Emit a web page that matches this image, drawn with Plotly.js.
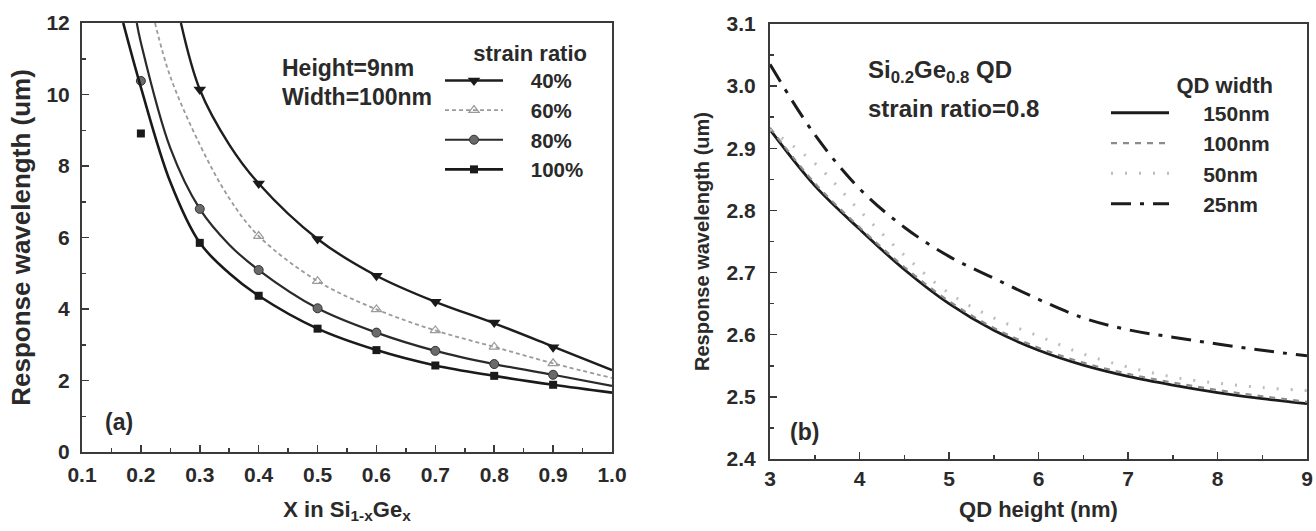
<!DOCTYPE html>
<html>
<head>
<meta charset="utf-8">
<script src="https://cdn.plot.ly/plotly-3.0.1.min.js"></script>
<style>html,body{margin:0;padding:0;background:#fff;}#chart{width:1316px;height:531px;}</style>
</head>
<body>
<div id="chart"></div>
<script>
// ---------- Panel (a): response wavelength vs Ge fraction x ----------
const strainLabels = ['40%', '60%', '80%', '100%'];
const xTicksA = [0.1, 0.2, 0.3, 0.4, 0.5, 0.6, 0.7, 0.8, 0.9, 1.0];
const yTicksA = [0, 2, 4, 6, 8, 10, 12];

// fitted curves
const xCurve40 = [0.268, 0.3, 0.35, 0.4, 0.5, 0.6, 0.7, 0.8, 0.9, 1.0];
const yCurve40 = [12, 10.14, 8.6, 7.51, 5.96, 4.93, 4.20, 3.60, 2.95, 2.29];
const xCurve60 = [0.224, 0.25, 0.3, 0.35, 0.4, 0.5, 0.6, 0.7, 0.8, 0.9, 1.0];
const yCurve60 = [12, 10.5, 8.6, 7.1, 6.04, 4.78, 3.99, 3.40, 2.94, 2.48, 2.07];
const xCurve80 = [0.193, 0.2, 0.25, 0.3, 0.35, 0.4, 0.5, 0.6, 0.7, 0.8, 0.9, 1.0];
const yCurve80 = [12, 11.45, 8.5, 6.80, 5.8, 5.09, 4.02, 3.34, 2.83, 2.46, 2.16, 1.85];
const xCurve100 = [0.170, 0.2, 0.25, 0.3, 0.35, 0.4, 0.5, 0.6, 0.7, 0.8, 0.9, 1.0];
const yCurve100 = [12, 10.2, 7.55, 5.85, 5.0, 4.37, 3.45, 2.85, 2.42, 2.13, 1.88, 1.66];

// data points (markers)
const xPts40 = [0.3, 0.4, 0.5, 0.6, 0.7, 0.8, 0.9];
const yPts40 = [10.14, 7.51, 5.96, 4.93, 4.20, 3.62, 2.93];
const xPts60 = [0.4, 0.5, 0.6, 0.7, 0.8, 0.9];
const yPts60 = [6.04, 4.78, 3.99, 3.40, 2.94, 2.48];
const xPts80 = [0.2, 0.3, 0.4, 0.5, 0.6, 0.7, 0.8, 0.9];
const yPts80 = [10.38, 6.80, 5.09, 4.02, 3.34, 2.83, 2.46, 2.16];
const xPts100 = [0.2, 0.3, 0.4, 0.5, 0.6, 0.7, 0.8, 0.9];
const yPts100 = [8.91, 5.85, 4.37, 3.45, 2.85, 2.42, 2.13, 1.88];

// ---------- Panel (b): response wavelength vs QD height ----------
const widthLabels = ['150nm', '100nm', '50nm', '25nm'];
const xTicksB = [3, 4, 5, 6, 7, 8, 9];
const yTicksB = [2.4, 2.5, 2.6, 2.7, 2.8, 2.9, 3.0, 3.1];
const qdHeight = [3, 3.5, 4, 4.5, 5, 5.5, 6, 6.5, 7, 7.5, 8, 8.5, 9];
const wl150 = [2.930, 2.840, 2.770, 2.705, 2.650, 2.607, 2.575, 2.551, 2.533, 2.519, 2.507, 2.497, 2.489];
const wl100 = [2.933, 2.844, 2.773, 2.709, 2.654, 2.611, 2.579, 2.555, 2.537, 2.523, 2.511, 2.501, 2.492];
const wl50  = [2.930, 2.876, 2.800, 2.728, 2.667, 2.627, 2.598, 2.569, 2.548, 2.532, 2.522, 2.515, 2.510];
const wl25  = [3.035, 2.922, 2.835, 2.773, 2.726, 2.691, 2.657, 2.627, 2.608, 2.596, 2.585, 2.575, 2.566];

const FONT = '"Liberation Sans", Arial, sans-serif';
const INK = '#2a2a2a';
const W = 1316, H = 531;
const px = v => v / W;
const py = v => (H - v) / H;
const GAP = n => '\u00a0'.repeat(n);

const curveStyles = [
  {color: '#1e1e1e', width: 2.4, dash: 'solid'},
  {color: '#9a9a9a', width: 1.8, dash: '4px,3px'},
  {color: '#2a2a2a', width: 2.2, dash: 'solid'},
  {color: '#1a1a1a', width: 2.6, dash: 'solid'}
];
const markerStyles = [
  {symbol: 'triangle-down', size: 11, color: '#1a1a1a', line: {width: 0}},
  {symbol: 'triangle-up-open', size: 9, color: '#9a9a9a', line: {width: 1.2}},
  {symbol: 'circle', size: 9, color: '#6a6a6a', line: {color: '#333', width: 1}},
  {symbol: 'square', size: 8, color: '#1a1a1a', line: {width: 0}}
];

const curvesX = [xCurve40, xCurve60, xCurve80, xCurve100];
const curvesY = [yCurve40, yCurve60, yCurve80, yCurve100];
const ptsX = [xPts40, xPts60, xPts80, xPts100];
const ptsY = [yPts40, yPts60, yPts80, yPts100];

const traces = [];
// legend-only entries (line + marker) for panel (a)
strainLabels.forEach((lab, i) => {
  traces.push({
    x: [null], y: [null], type: 'scatter', mode: 'lines+markers', name: GAP(4) + lab,
    line: {color: curveStyles[i].color, width: curveStyles[i].width, dash: curveStyles[i].dash},
    marker: markerStyles[i], xaxis: 'x', yaxis: 'y', legend: 'legend', hoverinfo: 'skip'
  });
});
strainLabels.forEach((lab, i) => {
  traces.push({
    x: curvesX[i], y: curvesY[i], type: 'scatter', mode: 'lines', name: lab + ' fit',
    line: {color: curveStyles[i].color, width: curveStyles[i].width, dash: curveStyles[i].dash, shape: 'spline', smoothing: 1},
    showlegend: false, xaxis: 'x', yaxis: 'y'
  });
  traces.push({
    x: ptsX[i], y: ptsY[i], type: 'scatter', mode: 'markers', name: lab + ' data',
    marker: markerStyles[i], showlegend: false, xaxis: 'x', yaxis: 'y'
  });
});

const wlSeries = [wl150, wl100, wl50, wl25];
const wlStyles = [
  {color: '#1c1c1c', width: 2.8, dash: 'solid'},
  {color: '#8c8c8c', width: 2.2, dash: '6px,6px'},
  {color: '#bdbdbd', width: 3, dash: '2px,12px'},
  {color: '#1c1c1c', width: 3, dash: '20px,9px,4px,9px'}
];
widthLabels.forEach((lab, i) => {
  traces.push({
    x: qdHeight, y: wlSeries[i], type: 'scatter', mode: 'lines', name: GAP(5) + lab,
    line: Object.assign({shape: 'spline', smoothing: 1}, wlStyles[i]),
    xaxis: 'x2', yaxis: 'y2', legend: 'legend2'
  });
});

const axisCommon = {
  showline: true, linecolor: '#3a3a3a', linewidth: 2, mirror: true,
  showgrid: false, zeroline: false, ticks: 'inside', ticklen: 7, tickwidth: 1.5, tickcolor: '#3a3a3a',
  tickmode: 'array', ticklabeloverflow: 'allow',
  tickfont: {family: FONT, size: 21, color: INK, weight: 'bold'}
};

const layout = {
  width: W, height: H,
  margin: {l: 0, r: 0, t: 0, b: 0},
  paper_bgcolor: '#ffffff', plot_bgcolor: '#ffffff',
  font: {family: FONT, size: 20, color: INK},
  showlegend: true,
  xaxis: Object.assign({}, axisCommon, {
    domain: [px(82), px(612)], anchor: 'y', range: [0.1, 1.0], tickvals: xTicksA, ticktext: xTicksA.map(v => v.toFixed(1)),
    minor: {ticks: 'inside', ticklen: 4, tickcolor: '#3a3a3a', tickmode: 'linear', dtick: 0.05, tick0: 0.1},
    ticklabelstandoff: 3,
    title: {text: 'X in Si<sub>1-x</sub>Ge<sub>x</sub>', standoff: 16, font: {family: FONT, size: 22, color: INK, weight: 'bold'}}
  }),
  yaxis: Object.assign({}, axisCommon, {
    domain: [79 / H, 508 / H], anchor: 'x', range: [0, 12], tickvals: yTicksA, ticktext: yTicksA.map(String),
    minor: {ticks: 'inside', ticklen: 4, tickcolor: '#3a3a3a', tickmode: 'linear', dtick: 1, tick0: 0},
    ticklabelstandoff: 6,
    title: {text: 'Response wavelength (um)', standoff: 8, font: {family: FONT, size: 26, color: INK, weight: 'bold'}}
  }),
  xaxis2: Object.assign({}, axisCommon, {
    domain: [px(770), px(1307)], anchor: 'y2', range: [3, 9], tickvals: xTicksB, ticktext: xTicksB.map(String),
    minor: {ticks: 'inside', ticklen: 4, tickcolor: '#3a3a3a', tickmode: 'linear', dtick: 0.5, tick0: 3},
    ticklabelstandoff: 0,
    title: {text: 'QD height (nm)', standoff: 12, font: {family: FONT, size: 22, color: INK, weight: 'bold'}}
  }),
  yaxis2: Object.assign({}, axisCommon, {
    domain: [72 / H, 507 / H], anchor: 'x2', range: [2.4, 3.1], tickvals: yTicksB, ticktext: yTicksB.map(v => v.toFixed(1)),
    minor: {ticks: 'inside', ticklen: 4, tickcolor: '#3a3a3a', tickmode: 'linear', dtick: 0.05, tick0: 2.4},
    ticklabelstandoff: 8,
    title: {text: 'Response wavelength (um)', standoff: 12, font: {family: FONT, size: 20, color: INK, weight: 'bold'}}
  }),
  legend: {
    x: px(440), y: py(32), xanchor: 'left', yanchor: 'top',
    bgcolor: 'rgba(0,0,0,0)', borderwidth: 0, itemwidth: 58,
    font: {family: FONT, size: 20.5, color: INK, weight: 'bold'},
    title: {text: 'strain ratio', side: 'top right', font: {family: FONT, size: 22, color: INK, weight: 'bold'}},
    tracegroupgap: 0
  },
  legend2: {
    x: px(1106), y: py(64), xanchor: 'left', yanchor: 'top',
    bgcolor: 'rgba(0,0,0,0)', borderwidth: 0, itemwidth: 58,
    font: {family: FONT, size: 21, color: INK, weight: 'bold'},
    title: {text: 'QD width', side: 'top right', font: {family: FONT, size: 22, color: INK, weight: 'bold'}},
    tracegroupgap: 0
  },
  annotations: [
    {xref: 'paper', yref: 'paper', x: px(280), y: py(68), xanchor: 'left', yanchor: 'middle', showarrow: false,
     text: 'Height=9nm', font: {family: FONT, size: 23, color: INK, weight: 'bold'}},
    {xref: 'paper', yref: 'paper', x: px(280), y: py(97), xanchor: 'left', yanchor: 'middle', showarrow: false,
     text: 'Width=100nm', font: {family: FONT, size: 23, color: INK, weight: 'bold'}},
    {xref: 'paper', yref: 'paper', x: px(103), y: py(422), xanchor: 'left', yanchor: 'middle', showarrow: false,
     text: '(a)', font: {family: FONT, size: 23, color: INK, weight: 'bold'}},
    {xref: 'paper', yref: 'paper', x: px(866), y: py(72), xanchor: 'left', yanchor: 'middle', showarrow: false,
     text: 'Si<sub>0.2</sub>Ge<sub>0.8</sub> QD', font: {family: FONT, size: 24, color: INK, weight: 'bold'}},
    {xref: 'paper', yref: 'paper', x: px(866), y: py(108), xanchor: 'left', yanchor: 'middle', showarrow: false,
     text: 'strain ratio=0.8', font: {family: FONT, size: 24, color: INK, weight: 'bold'}},
    {xref: 'paper', yref: 'paper', x: px(788), y: py(432), xanchor: 'left', yanchor: 'middle', showarrow: false,
     text: '(b)', font: {family: FONT, size: 23, color: INK, weight: 'bold'}}
  ]
};

Plotly.newPlot('chart', traces, layout, {staticPlot: true, displayModeBar: false});
</script>
</body>
</html>
